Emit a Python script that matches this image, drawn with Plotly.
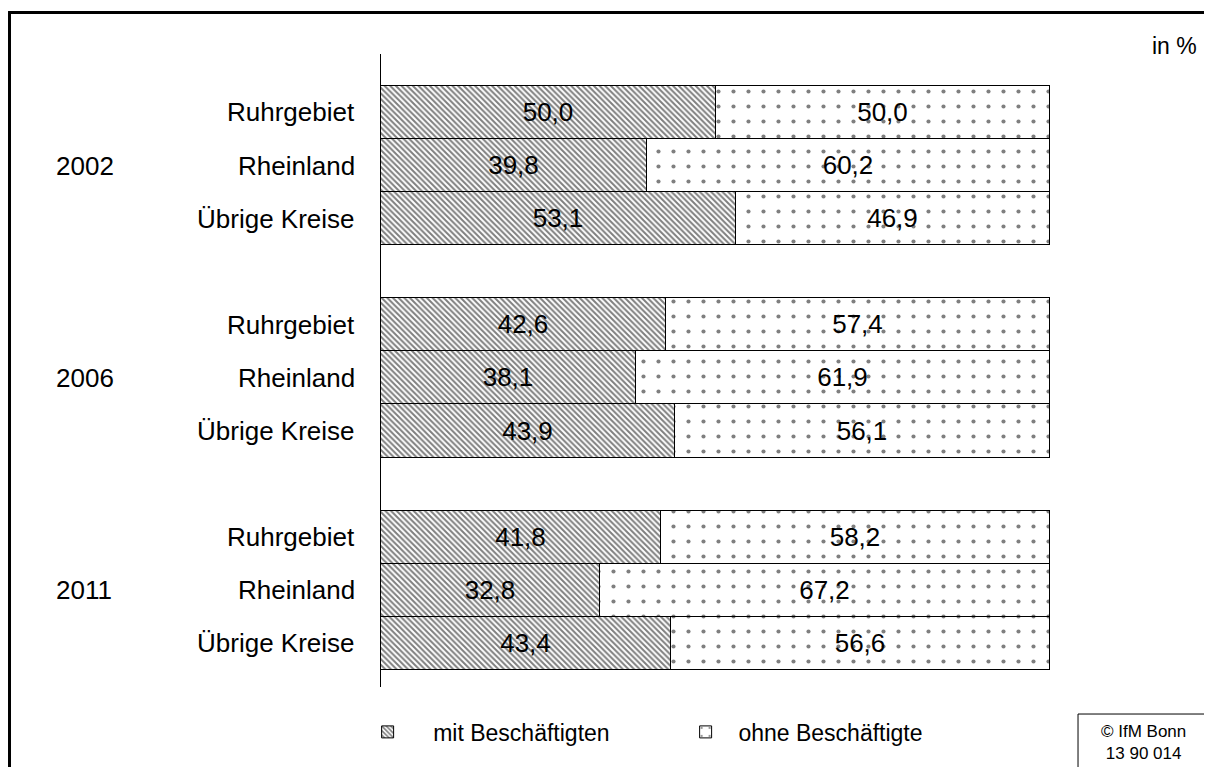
import plotly.graph_objects as go

years = ["2002", "2006", "2011"]
regions = ["Ruhrgebiet", "Rheinland", "Übrige Kreise"]
mit = [50.0, 39.8, 53.1, 42.6, 38.1, 43.9, 41.8, 32.8, 43.4]
ohne = [50.0, 60.2, 46.9, 57.4, 61.9, 56.1, 58.2, 67.2, 56.6]
series_names = ["mit Beschäftigten", "ohne Beschäftigte"]

# positions: one blank slot between year groups
slot = len(regions) + 1
pos = [g * slot + r for g in range(len(years)) for r in range(len(regions))]
row_labels = [regions[r] for g in range(len(years)) for r in range(len(regions))]

FONT = "Liberation Sans, Arial, sans-serif"
LSIZE = 26

fig = go.Figure()
fig.add_trace(go.Bar(
    y=pos, x=mit, orientation="h", name="    " + series_names[0],
    marker=dict(color="white", line=dict(color="black", width=1),
                pattern=dict(shape="\\", size=4, solidity=0.5, fgcolor="black", bgcolor="white")),
    texttemplate="%{x:.1f}", textposition="inside", insidetextanchor="middle",
    textfont=dict(family=FONT, size=LSIZE, color="black"), hoverinfo="skip",
))
fig.add_trace(go.Bar(
    y=pos, x=ohne, orientation="h", name="  " + series_names[1],
    marker=dict(color="white", line=dict(color="black", width=1),
                pattern=dict(shape=".", size=15, solidity=0.06, fgcolor="black", bgcolor="white")),
    texttemplate="%{x:.1f}", textposition="inside", insidetextanchor="middle",
    textfont=dict(family=FONT, size=LSIZE, color="black"), hoverinfo="skip",
))

ann = []
for p, lab in zip(pos, row_labels):
    ann.append(dict(x=-0.036, xref="paper", y=p, yref="y", text=lab, showarrow=False,
                    xanchor="right", yanchor="middle", font=dict(family=FONT, size=LSIZE, color="black")))
for g, yr in enumerate(years):
    ann.append(dict(x=-0.489, xref="paper", y=g * slot + 1, yref="y", text=yr, showarrow=False,
                    xanchor="left", yanchor="middle", font=dict(family=FONT, size=LSIZE, color="black")))
ann.append(dict(x=1.2225, xref="paper", y=1.0125, yref="paper", text="in %", showarrow=False,
                xanchor="right", yanchor="middle", font=dict(family=FONT, size=23, color="black")))
ann.append(dict(x=1.140, xref="paper", y=-0.0875, yref="paper", text="© IfM Bonn<br>13 90 014",
                showarrow=False, xanchor="center", yanchor="middle", align="center",
                font=dict(family=FONT, size=17, color="black")))

shapes = [
    dict(type="line", xref="paper", yref="paper", x0=-0.5553, x1=-0.5553, y0=1.0656, y1=-0.15,
         line=dict(color="black", width=3)),
    dict(type="line", xref="paper", yref="paper", x0=-0.5575, x1=1.25, y0=1.0656, y1=1.0656,
         line=dict(color="black", width=3)),
    dict(type="rect", xref="paper", yref="paper", x0=1.0419, x1=1.26, y0=-0.15, y1=-0.0427,
         line=dict(color="black", width=1), fillcolor="white"),
]

fig.update_layout(
    width=1204, height=759,
    margin=dict(l=373, r=162, t=46, b=80),
    barmode="stack", bargap=0,
    separators=",.",
    plot_bgcolor="white", paper_bgcolor="white",
    showlegend=True,
    legend=dict(orientation="h", x=-0.02, y=-0.071, xanchor="left", yanchor="middle",
                traceorder="normal",
                font=dict(family=FONT, size=23, color="black"), entrywidth=273,
                bgcolor="rgba(0,0,0,0)"),
    xaxis=dict(range=[0, 100], visible=False, fixedrange=True),
    yaxis=dict(range=[10.82, -1.10], showticklabels=False, ticks="", showgrid=False,
               zeroline=False, showline=True, linecolor="black", linewidth=1, fixedrange=True),
    annotations=ann, shapes=shapes,
    font=dict(family=FONT, color="black"),
)

fig.write_html("out.html")
